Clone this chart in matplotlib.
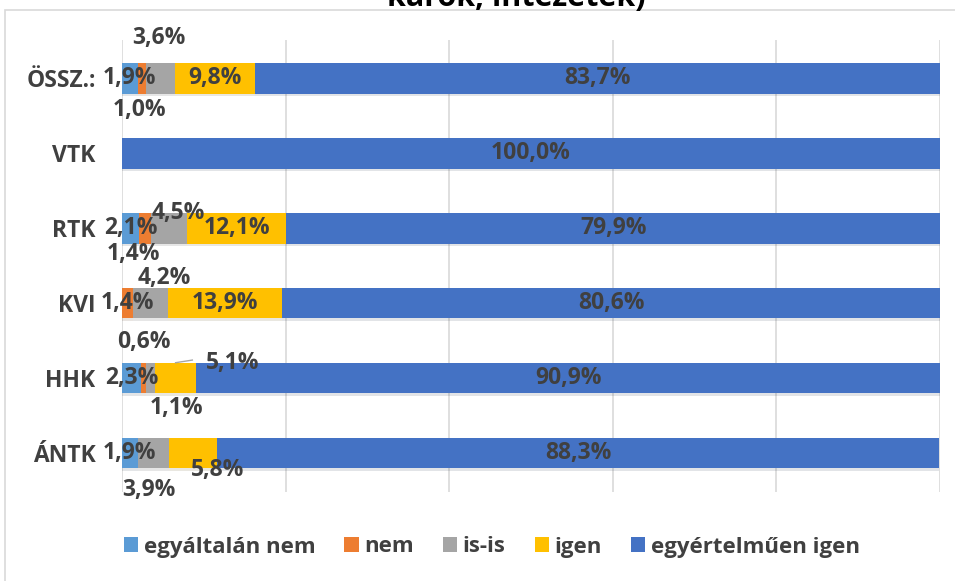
import numpy as np
import matplotlib
matplotlib.use('Agg')
import matplotlib.pyplot as plt
from matplotlib.patches import Rectangle
import matplotlib.patheffects as pe

plt.rcParams['font.family'] = ['Open Sans', 'DejaVu Sans']

# categories bottom -> top
categories = ["ÁNTK", "HHK", "KVI", "RTK", "VTK", "ÖSSZ.:"]
series = ["egyáltalán nem", "nem", "is-is", "igen", "egyértelműen igen"]
egyaltalan_nem = [1.9, 2.3, 0.0, 2.1, 0.0, 1.9]
nem            = [0.0, 0.6, 1.4, 1.4, 0.0, 1.0]
is_is          = [3.9, 1.1, 4.2, 4.5, 0.0, 3.6]
igen           = [5.8, 5.1, 13.9, 12.1, 0.0, 9.8]
egyertelmuen   = [88.3, 90.9, 80.6, 79.9, 100.0, 83.7]
colors = ["#5B9BD5", "#ED7D31", "#A5A5A5", "#FFC000", "#4472C4"]

# label nudges in pixels (dx, dy) for small segments: (category, series) -> offset
nudges = {
    (5, 1): (-2, -32), (5, 2): (-2, 40),
    (3, 1): (-11, -26), (3, 2): (9, 15),
    (2, 2): (14, 25),
    (1, 1): (1, 36), (1, 2): (26, -30), (1, 3): (57, 15),
    (0, 2): (-5, -37), (0, 3): (24, -17),
}

fig = plt.figure(figsize=(9.55, 5.81), dpi=100)
# chart border (only top/left visible)
fig.patches.append(Rectangle((5/955, -0.05), 1.2, 1 - 10/581 + 0.05,
                             transform=fig.transFigure, fill=False,
                             edgecolor='#d9d9d9', linewidth=1.2))
# title is cut off at the top edge in the source image
fig.text(516/955, 1 - 6/581, "karok, intézetek)", ha='center', va='baseline',
         fontsize=22, fontweight='bold', color='#000000')

ax = fig.add_axes([122/955, 1 - 492/581, 818/955, 452/581])
y = np.arange(len(categories))
data = [egyaltalan_nem, nem, is_is, igen, egyertelmuen]
left = np.zeros(len(categories))
txt_color = '#404040'
for si, (vals, col) in enumerate(zip(data, colors)):
    vals = np.array(vals)
    bars = ax.barh(y, vals, left=left, height=0.41, color=col, label=series[si],
                   zorder=3)
    for b in bars:
        b.set_path_effects([pe.SimplePatchShadow(offset=(0, -2), alpha=0.12), pe.Normal()])
    for ci, v in enumerate(vals):
        if v <= 0:
            continue
        cx = left[ci] + v / 2
        dx, dy = nudges.get((ci, si), (0, 0))
        ax.annotate(f"{v:.1f}%".replace('.', ','), (cx, y[ci]),
                    xytext=(dx, dy), textcoords='offset pixels',
                    ha='center', va='center', fontsize=16.5,
                    fontweight='bold', color=txt_color, zorder=5)
    left += vals

# leader line for HHK "igen"
ax.plot([6.55, 8.6], [1 + 0.205, 1 + 0.24], color='#a6a6a6', lw=1, zorder=4,
        clip_on=False)

ax.set_xlim(0, 100)
ax.set_ylim(-0.52, 5.51)
ax.set_xticks([0, 20, 40, 60, 80, 100])
ax.set_xticklabels([])
ax.tick_params(axis='x', length=0)
ax.grid(True, axis='x', color='#d9d9d9', linewidth=1.2, zorder=0)
ax.set_yticks(y)
ax.set_yticklabels(categories, fontsize=16.5, fontweight='bold', color=txt_color)
ax.tick_params(axis='y', length=0, pad=19)
for s in ax.spines.values():
    s.set_visible(False)

handles, labels = ax.get_legend_handles_labels()
leg = fig.legend(handles, labels, loc='center', bbox_to_anchor=(0.515, 1 - 547/581),
                 ncol=5, frameon=False, handlelength=0.65, handleheight=0.65,
                 handletextpad=0.25, columnspacing=1.3,
                 prop={'size': 16, 'weight': 'bold'})
for t in leg.get_texts():
    t.set_color(txt_color)
for h in leg.legend_handles:
    h.set_path_effects([])

fig.savefig("out.png", dpi=100)
